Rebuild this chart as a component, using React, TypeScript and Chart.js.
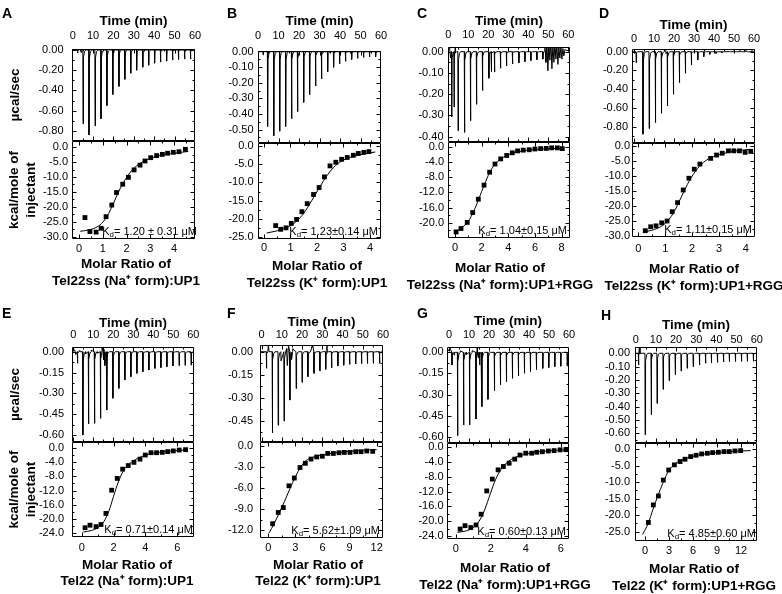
import React, { useEffect, useRef } from 'react';
import { Chart, registerables } from 'chart.js';

Chart.register(...registerables);

const FONT = '"Liberation Sans", Arial, Helvetica, sans-serif';
Chart.defaults.font.family = FONT;
Chart.defaults.font.size = 11;
Chart.defaults.color = '#000';

const TITLE_SIZE = 13.5;
const TITLE_LH = TITLE_SIZE * 1.25;
const TICK_LH = 11 * 1.2;

// ---------------- shared ticks ----------------
const TIME_TICKS = [0, 10, 20, 30, 40, 50, 60];

// ---------------- Panel A ----------------
const A_INJ_T = [2.3, 5.0, 7.9, 10.9, 13.8, 16.7, 19.6, 22.6, 25.5, 28.4, 31.3, 34.3, 37.2, 40.1, 43.0, 46.0, 48.9, 51.8, 54.8, 57.7];
const A_INJ_Q = [-0.03, -0.73, -0.84, -0.75, -0.68, -0.55, -0.44, -0.36, -0.29, -0.23, -0.2, -0.17, -0.15, -0.13, -0.12, -0.11, -0.1, -0.095, -0.09, -0.09];
const A_NOISE = [[3.6, 0.008], [4.2, -0.025], [4.6, 0.009], [29.9, 0.007]];
const A_RATIO = [0.25, 0.46, 0.72, 0.93, 1.14, 1.38, 1.58, 1.84, 2.08, 2.32, 2.57, 2.78, 3.02, 3.27, 3.51, 3.73, 3.97, 4.21, 4.48];
const A_HEAT = [-23.6, -28.3, -28.5, -27.2, -23.3, -19.4, -15.2, -12.4, -10.1, -7.6, -6.0, -4.6, -3.5, -2.8, -2.4, -2.0, -1.7, -1.5, -0.7];
const A_FIT_X = [0.05, 0.4, 0.7, 0.95, 1.15, 1.35, 1.55, 1.75, 1.95, 2.2, 2.5, 2.8, 3.2, 3.6, 4.0, 4.6];
const A_FIT_Y = [-28.2, -27.8, -27.0, -25.6, -23.6, -20.6, -17.0, -13.6, -10.8, -8.0, -5.8, -4.4, -3.2, -2.5, -2.0, -1.4];
const A_RAW_TICKS = [0, -0.2, -0.4, -0.6, -0.8];
const A_HEAT_TICKS = [0, -5, -10, -15, -20, -25, -30];
const A_RATIO_TICKS = [0, 1, 2, 3, 4];

// ---------------- Panel B ----------------
const B_INJ_T = [2.4, 4.6, 7.6, 10.5, 13.4, 16.3, 19.2, 22.2, 25.1, 28.0, 30.9, 33.9, 36.8, 39.7, 42.6, 45.6, 48.5, 51.4, 54.3, 57.3];
const B_INJ_Q = [-0.02, -0.48, -0.54, -0.51, -0.48, -0.43, -0.385, -0.325, -0.275, -0.22, -0.175, -0.13, -0.1, -0.078, -0.062, -0.05, -0.043, -0.037, -0.033, -0.032];
const B_NOISE: number[][] = [];
const B_RATIO = [0.44, 0.63, 0.83, 1.03, 1.23, 1.43, 1.63, 1.87, 2.08, 2.28, 2.49, 2.71, 2.93, 3.14, 3.37, 3.56, 3.77, 3.96];
const B_HEAT = [-21.8, -22.8, -22.4, -21.2, -20.1, -18.0, -15.8, -13.3, -11.4, -8.5, -5.5, -4.5, -3.7, -3.2, -2.6, -2.1, -1.8, -1.6];
const B_FIT_X = [0.1, 0.5, 0.9, 1.2, 1.5, 1.8, 2.1, 2.4, 2.7, 3.0, 3.4, 3.8, 4.2];
const B_FIT_Y = [-23.8, -23.2, -22.2, -20.8, -18.4, -15.0, -11.3, -7.9, -5.4, -3.9, -2.9, -2.2, -1.7];
const B_RAW_TICKS = [0, -0.1, -0.2, -0.3, -0.4, -0.5];
const B_HEAT_TICKS = [0, -5, -10, -15, -20, -25];
const B_RATIO_TICKS = [0, 1, 2, 3, 4];

// ---------------- Panel C ----------------
const C_INJ_T = [1.6, 2.8, 4.8, 8.0, 11.0, 14.0, 17.0, 20.2, 21.4, 23.0, 26.0, 29.0, 32.0, 35.2, 38.2, 41.2, 44.2, 47.2];
const C_INJ_Q = [-0.306, -0.26, -0.372, -0.38, -0.325, -0.248, -0.183, -0.125, -0.094, -0.096, -0.078, -0.067, -0.058, -0.052, -0.047, -0.042, -0.038, -0.035];
const C_NOISE = [[0.6, 0.025], [1.1, -0.03], [3.5, 0.02], [48.3, 0.02], [48.8, -0.05], [49.3, 0.05], [49.8, -0.09], [50.3, 0.04], [50.8, -0.04], [51.3, 0.06], [51.8, -0.08], [52.3, 0.035], [52.8, -0.05], [53.3, 0.04], [53.8, -0.035], [54.3, 0.03], [54.8, -0.06], [55.3, 0.02], [55.8, -0.03], [56.3, 0.025], [56.8, -0.035], [57.3, 0.015], [57.8, -0.02], [58.3, 0.01]];
const C_RATIO = [0.08, 0.45, 0.92, 1.33, 1.75, 2.18, 2.6, 3.0, 3.43, 3.88, 4.3, 4.7, 5.12, 5.57, 6.0, 6.43, 6.85, 7.25, 7.68, 8.05];
const C_HEAT = [-22.4, -21.5, -19.9, -17.3, -13.8, -10.1, -6.7, -4.55, -3.2, -2.3, -1.6, -1.1, -0.9, -0.8, -0.6, -0.5, -0.45, -0.3, -0.3, -0.5];
const C_FIT_X = [0.1, 0.5, 1.0, 1.4, 1.8, 2.2, 2.6, 3.0, 3.4, 3.9, 4.5, 5.5, 6.5, 8.0];
const C_FIT_Y = [-22.2, -21.3, -19.6, -17.0, -13.6, -10.0, -6.8, -4.6, -3.3, -2.3, -1.5, -0.9, -0.6, -0.4];
const C_RAW_TICKS = [0, -0.1, -0.2, -0.3, -0.4];
const C_HEAT_TICKS = [0, -4, -8, -12, -16, -20];
const C_RATIO_TICKS = [0, 2, 4, 6, 8];

// ---------------- Panel D ----------------
const D_INJ_T = [1.0, 4.4, 7.5, 10.6, 13.6, 16.6, 19.6, 22.6, 25.6, 28.6, 31.8, 34.8, 37.8, 40.9, 43.9, 46.9, 49.9, 52.9, 55.9, 58.9];
const D_INJ_Q = [-0.117, -0.88, -0.82, -0.757, -0.657, -0.579, -0.454, -0.33, -0.23, -0.142, -0.089, -0.053, -0.028, -0.018, -0.011, 0.008, 0.012, 0.014, 0.014, 0.014];
const D_NOISE = [[15.8, 0.035], [16.0, -0.02]];
const D_RATIO = [0.26, 0.46, 0.66, 0.87, 1.07, 1.26, 1.46, 1.67, 1.88, 2.08, 2.29, 2.69, 2.91, 3.12, 3.35, 3.55, 3.76, 3.97, 4.18];
const D_HEAT = [-28.2, -26.9, -26.6, -25.6, -25.0, -21.9, -18.9, -14.7, -10.8, -7.8, -6.1, -4.2, -3.1, -2.5, -1.7, -1.7, -1.7, -2.2, -1.9];
const D_FIT_X = [0.2, 0.6, 1.0, 1.3, 1.6, 1.9, 2.2, 2.5, 2.9, 3.3, 3.7, 4.2];
const D_FIT_Y = [-28.6, -27.8, -25.8, -22.4, -17.0, -11.6, -7.6, -5.0, -3.3, -2.3, -1.6, -1.2];
const D_RAW_TICKS = [0, -0.2, -0.4, -0.6, -0.8];
const D_HEAT_TICKS = [0, -5, -10, -15, -20, -25, -30];
const D_RATIO_TICKS = [0, 1, 2, 3, 4];

// ---------------- Panel E ----------------
const E_INJ_T = [2.0, 4.7, 7.5, 10.5, 13.5, 15.7, 16.7, 19.7, 22.7, 25.7, 28.7, 31.7, 34.7, 37.7, 40.7, 43.7, 46.7, 49.7, 52.8, 55.8, 58.8];
const E_INJ_Q = [-0.084, -0.6, -0.52, -0.516, -0.48, -0.1, -0.42, -0.335, -0.264, -0.204, -0.18, -0.156, -0.144, -0.132, -0.12, -0.115, -0.108, -0.103, -0.1, -0.098, -0.096];
const E_NOISE = [[0.6, 0.015], [1.2, -0.02], [3.2, 0.01], [6.2, -0.015], [9.0, 0.012], [12.0, -0.01], [14.4, 0.03], [14.9, -0.06], [15.3, 0.025]];
const E_RATIO = [0.21, 0.52, 0.9, 1.21, 1.52, 1.88, 2.23, 2.57, 2.92, 3.28, 3.66, 3.99, 4.35, 4.7, 5.06, 5.4, 5.75, 6.12, 6.52];
const E_HEAT = [-22.4, -21.7, -22.1, -21.5, -18.4, -11.9, -8.6, -6.0, -5.0, -4.1, -3.2, -2.05, -1.4, -1.4, -1.3, -1.1, -0.9, -0.65, -0.55];
const E_FIT_X = [0.1, 0.6, 1.0, 1.4, 1.7, 2.0, 2.3, 2.6, 3.0, 3.5, 4.0, 5.0, 6.0, 6.6];
const E_FIT_Y = [-23.6, -23.2, -22.4, -20.6, -17.8, -13.6, -9.6, -6.6, -4.5, -3.0, -2.1, -1.2, -0.8, -0.6];
const E_RAW_TICKS = [0, -0.15, -0.3, -0.45, -0.6];
const E_HEAT_TICKS = [0, -4, -8, -12, -16, -20, -24];
const E_RATIO_TICKS = [0, 2, 4, 6];

// ---------------- Panel F ----------------
const F_INJ_T = [2.3, 5.2, 8.1, 11.0, 13.9, 17.0, 19.9, 22.8, 25.8, 28.7, 31.6, 34.5, 37.6, 40.5, 43.4, 46.4, 49.3, 52.2, 55.1, 58.2];
const F_INJ_Q = [-0.108, -0.53, -0.48, -0.453, -0.316, -0.24, -0.2, -0.163, -0.141, -0.126, -0.115, -0.105, -0.093, -0.088, -0.083, -0.08, -0.078, -0.077, -0.076, -0.076];
const F_NOISE = [[3.3, 0.05], [9.6, -0.06], [12.3, 0.02], [12.7, -0.09], [13.3, 0.04], [14.8, -0.05], [15.4, 0.02], [25.2, 0.05], [32.3, 0.05]];
const F_RATIO = [0.48, 1.1, 1.66, 2.29, 2.88, 3.51, 4.1, 4.73, 5.36, 5.98, 6.58, 7.2, 7.83, 8.42, 9.05, 9.68, 10.27, 10.9, 11.56];
const F_HEAT = [-11.1, -9.5, -8.8, -5.7, -4.6, -3.1, -2.5, -1.9, -1.6, -1.5, -1.1, -1.1, -1.0, -0.95, -0.95, -0.85, -0.85, -0.75, -0.8];
const F_FIT_X = [0.1, 0.6, 1.2, 1.8, 2.4, 3.0, 3.6, 4.2, 4.8, 6.0, 7.5, 9.0, 10.5, 12.0];
const F_FIT_Y = [-12.4, -11.2, -9.6, -7.9, -6.1, -4.4, -3.0, -2.1, -1.7, -1.3, -1.0, -0.8, -0.65, -0.55];
const F_RAW_TICKS = [0, -0.15, -0.3, -0.45];
const F_HEAT_TICKS = [0, -3, -6, -9, -12];
const F_RATIO_TICKS = [0, 3, 6, 9, 12];

// ---------------- Panel G ----------------
const G_INJ_T = [1.4, 4.2, 7.2, 10.2, 13.4, 15.2, 16.4, 19.4, 22.6, 25.6, 28.6, 31.6, 34.6, 37.6, 40.6, 43.6, 46.8, 49.8, 52.8, 55.8, 59.0];
const G_INJ_Q = [-0.09, -0.593, -0.517, -0.517, -0.474, -0.09, -0.386, -0.334, -0.273, -0.232, -0.209, -0.185, -0.168, -0.149, -0.137, -0.125, -0.114, -0.108, -0.102, -0.099, -0.097];
const G_NOISE = [[0.5, 0.03], [2.6, -0.02], [5.6, 0.01], [8.6, -0.015], [11.6, 0.012], [14.2, 0.035], [14.7, -0.04]];
const G_RATIO = [0.25, 0.53, 0.86, 1.16, 1.45, 1.77, 2.09, 2.42, 2.72, 3.05, 3.37, 3.67, 4.0, 4.34, 4.63, 4.95, 5.29, 5.62, 5.96, 6.29];
const G_HEAT = [-22.1, -21.2, -21.7, -21.0, -18.1, -11.8, -8.6, -6.1, -5.2, -4.3, -3.2, -2.1, -1.6, -1.6, -1.35, -1.2, -1.0, -0.9, -0.7, -0.65];
const G_FIT_X = [0.1, 0.6, 1.0, 1.3, 1.6, 1.9, 2.2, 2.5, 2.8, 3.2, 3.7, 4.3, 5.2, 6.3];
const G_FIT_Y = [-23.0, -22.6, -21.7, -20.2, -17.5, -13.6, -9.6, -6.6, -4.7, -3.2, -2.2, -1.5, -1.0, -0.7];
const G_RAW_TICKS = [0, -0.15, -0.3, -0.45, -0.6];
const G_HEAT_TICKS = [0, -4, -8, -12, -16, -20, -24];
const G_RATIO_TICKS = [0, 2, 4, 6];

// ---------------- Panel H ----------------
const H_INJ_T = [1.3, 4.6, 7.6, 10.5, 13.5, 16.5, 19.5, 22.4, 25.4, 28.4, 31.5, 34.5, 37.4, 40.4, 43.4, 46.3, 49.3, 52.3, 55.2, 58.2];
const H_INJ_Q = [-0.088, -0.61, -0.462, -0.375, -0.27, -0.205, -0.163, -0.133, -0.112, -0.1, -0.088, -0.075, -0.072, -0.068, -0.065, -0.063, -0.062, -0.061, -0.06, -0.06];
const H_NOISE = [[1.9, 0.06]];
const H_RATIO = [0.42, 1.04, 1.67, 2.29, 2.96, 3.67, 4.38, 5.0, 5.71, 6.38, 7.08, 7.79, 8.46, 9.17, 9.88, 10.54, 11.25, 11.96];
const H_HEAT = [-22.2, -16.9, -14.2, -9.4, -6.35, -4.8, -3.8, -3.1, -2.3, -1.9, -1.5, -1.3, -1.1, -1.0, -0.8, -0.8, -0.6, -0.5];
const H_FIT_X = [-0.3, 0.4, 1.0, 1.6, 2.2, 2.8, 3.4, 4.0, 5.0, 6.0, 7.5, 9.0, 10.5, 12.0, 13.2];
const H_FIT_Y = [-25.8, -22.5, -18.2, -14.2, -10.5, -7.3, -5.3, -4.1, -3.0, -2.2, -1.5, -1.1, -0.8, -0.6, -0.5];
const H_RAW_TICKS = [0, -0.1, -0.2, -0.3, -0.4, -0.5, -0.6];
const H_HEAT_TICKS = [0, -5, -10, -15, -20, -25];
const H_RATIO_TICKS = [0, 3, 6, 9, 12];

// ---------------- labels ----------------
const X_LABEL_1 = 'Molar Ratio of';
const X_LABELS_2 = [
  'Tel22ss (Na⁺ form):UP1', 'Tel22ss (K⁺ form):UP1', 'Tel22ss (Na⁺ form):UP1+RGG', 'Tel22ss (K⁺ form):UP1+RGG',
  'Tel22 (Na⁺ form):UP1', 'Tel22 (K⁺ form):UP1', 'Tel22 (Na⁺ form):UP1+RGG', 'Tel22 (K⁺ form):UP1+RGG',
];
const KD_TEXT = [
  '= 1.20 ± 0.31 μM', '= 1.23±0.14 μM', '= 1.04±0.15 μM', '= 1.11±0.15 μM',
  '= 0.71±0.14 μM', '= 5.62±1.09 μM', '= 0.60±0.13 μM', '= 4.85±0.60 μM',
];
const LETTERS = ['A', 'B', 'C', 'D', 'E', 'F', 'G', 'H'];

// ---------------- layout (positions only) ----------------
const LAYOUT = [
  { col: 0, L: 72, R: 195, T: 49, D: 141, B: 239, tY: 35.7, ttY: 21.7, xY: 249, t2Y: 281, cx: 126, yPad: 8.5, yPadB: 4, kdDx: 2, lx: 2, ly: 6 },
  { col: 1, L: 258, R: 381, T: 51, D: 143, B: 239, tY: 35.7, ttY: 21.7, xY: 248.3, t2Y: 283, cx: 317, yPad: 4.5, yPadB: 4.5, kdDx: -3, lx: 227, ly: 6 },
  { col: 2, L: 448, R: 570, T: 47, D: 142, B: 238, tY: 35, ttY: 21.7, xY: 248.3, t2Y: 285, cx: 500, yPad: 4.5, yPadB: 4, kdDx: -3, lx: 417, ly: 6 },
  { col: 3, L: 632, R: 755, T: 49, D: 143, B: 237, tY: 39, ttY: 25, xY: 249.3, t2Y: 286, cx: 694, yPad: 4, yPadB: 2, kdDx: -3, lx: 599, ly: 6 },
  { col: 0, L: 72, R: 194, T: 347, D: 442, B: 537, tY: 335, ttY: 323, xY: 548.3, t2Y: 581.7, cx: 127, yPad: 8, yPadB: 8, kdDx: -1, lx: 2, ly: 306 },
  { col: 1, L: 260, R: 383, T: 345, D: 442, B: 538, tY: 335, ttY: 322.7, xY: 548.3, t2Y: 581.7, cx: 318, yPad: 7, yPadB: 7, kdDx: -3, lx: 227, ly: 306 },
  { col: 2, L: 447, R: 569, T: 347, D: 443, B: 539, tY: 335, ttY: 321.7, xY: 549.3, t2Y: 585, cx: 505, yPad: 3.5, yPadB: 3.5, kdDx: -3, lx: 417, ly: 306 },
  { col: 3, L: 635, R: 757, T: 347, D: 443, B: 541, tY: 340, ttY: 325, xY: 550.7, t2Y: 586, cx: 694, yPad: 5, yPadB: 5, kdDx: -1, lx: 601, ly: 308 },
];

const RANGES = [
  { time: [-0.34, 60], raw: [-0.9, 0.01], heat: [-30.8, 2.1], ratio: [-0.295, 4.884] },
  { time: [0, 60], raw: [-0.586, 0.0045], heat: [-25.45, 0.75], ratio: [-0.226, 4.415] },
  { time: [-0.15, 60.85], raw: [-0.425, 0.022], heat: [-24.0, 1.24], ratio: [-0.525, 8.63] },
  { time: [-1.0, 60.5], raw: [-0.974, 0.029], heat: [-30.3, 0.9], ratio: [-0.234, 4.338] },
  { time: [-0.65, 60.35], raw: [-0.65, 0.034], heat: [-25.0, 1.6], ratio: [-0.61, 7.05] },
  { time: [-0.8, 60], raw: [-0.59, 0.044], heat: [-13.13, 0.53], ratio: [-0.92, 12.7] },
  { time: [-1, 60], raw: [-0.645, 0.038], heat: [-24.8, 1.16], ratio: [-0.5, 6.47] },
  { time: [-0.35, 60.1], raw: [-0.672, 0.047], heat: [-27.8, 1.8], ratio: [-1.25, 14.0] },
];

const DATA = [
  { injT: A_INJ_T, injQ: A_INJ_Q, noise: A_NOISE, ratio: A_RATIO, heat: A_HEAT, fitX: A_FIT_X, fitY: A_FIT_Y, rawTicks: A_RAW_TICKS, heatTicks: A_HEAT_TICKS, ratioTicks: A_RATIO_TICKS },
  { injT: B_INJ_T, injQ: B_INJ_Q, noise: B_NOISE, ratio: B_RATIO, heat: B_HEAT, fitX: B_FIT_X, fitY: B_FIT_Y, rawTicks: B_RAW_TICKS, heatTicks: B_HEAT_TICKS, ratioTicks: B_RATIO_TICKS },
  { injT: C_INJ_T, injQ: C_INJ_Q, noise: C_NOISE, ratio: C_RATIO, heat: C_HEAT, fitX: C_FIT_X, fitY: C_FIT_Y, rawTicks: C_RAW_TICKS, heatTicks: C_HEAT_TICKS, ratioTicks: C_RATIO_TICKS },
  { injT: D_INJ_T, injQ: D_INJ_Q, noise: D_NOISE, ratio: D_RATIO, heat: D_HEAT, fitX: D_FIT_X, fitY: D_FIT_Y, rawTicks: D_RAW_TICKS, heatTicks: D_HEAT_TICKS, ratioTicks: D_RATIO_TICKS },
  { injT: E_INJ_T, injQ: E_INJ_Q, noise: E_NOISE, ratio: E_RATIO, heat: E_HEAT, fitX: E_FIT_X, fitY: E_FIT_Y, rawTicks: E_RAW_TICKS, heatTicks: E_HEAT_TICKS, ratioTicks: E_RATIO_TICKS },
  { injT: F_INJ_T, injQ: F_INJ_Q, noise: F_NOISE, ratio: F_RATIO, heat: F_HEAT, fitX: F_FIT_X, fitY: F_FIT_Y, rawTicks: F_RAW_TICKS, heatTicks: F_HEAT_TICKS, ratioTicks: F_RATIO_TICKS },
  { injT: G_INJ_T, injQ: G_INJ_Q, noise: G_NOISE, ratio: G_RATIO, heat: G_HEAT, fitX: G_FIT_X, fitY: G_FIT_Y, rawTicks: G_RAW_TICKS, heatTicks: G_HEAT_TICKS, ratioTicks: G_RATIO_TICKS },
  { injT: H_INJ_T, injQ: H_INJ_Q, noise: H_NOISE, ratio: H_RATIO, heat: H_HEAT, fitX: H_FIT_X, fitY: H_FIT_Y, rawTicks: H_RAW_TICKS, heatTicks: H_HEAT_TICKS, ratioTicks: H_RATIO_TICKS },
];

// ---------------- plugins ----------------
function minorsOf(arr: number[]) {
  const m: number[] = [];
  for (let i = 0; i < arr.length - 1; i++) m.push((arr[i] + arr[i + 1]) / 2);
  if (arr.length > 1) {
    const st = arr[1] - arr[0];
    m.push(arr[0] - st / 2, arr[arr.length - 1] + st / 2);
  }
  return m;
}

const frameTicks = {
  id: 'frameTicks',
  afterDatasetsDraw(chart: any, _a: any, opts: any) {
    const { ctx, chartArea } = chart;
    const { left, right, top, bottom } = chartArea;
    const xs = chart.scales.x;
    const ys = chart.scales.y;
    const l = Math.round(left) + 0.5;
    const r = Math.round(right) - 0.5;
    const t = Math.round(top) + 0.5;
    const b = Math.round(bottom) - 0.5;
    ctx.save();
    ctx.strokeStyle = '#000';
    ctx.lineWidth = 1;
    ctx.beginPath();
    ctx.rect(l, t, r - l, b - t);
    const dx = (vals: number[], len: number) => {
      for (const v of vals) {
        const px = xs.getPixelForValue(v);
        if (px < left + 1 || px > right - 1) continue;
        const p = Math.round(px) + 0.5;
        ctx.moveTo(p, t); ctx.lineTo(p, t + len);
        ctx.moveTo(p, b); ctx.lineTo(p, b - len);
      }
    };
    const dy = (vals: number[], len: number) => {
      for (const v of vals) {
        const py = ys.getPixelForValue(v);
        if (py < top + 1 || py > bottom - 1) continue;
        const p = Math.round(py) + 0.5;
        ctx.moveTo(l, p); ctx.lineTo(l + len, p);
        ctx.moveTo(r, p); ctx.lineTo(r - len, p);
      }
    };
    dx(opts.x, 4); dx(minorsOf(opts.x), 2);
    dy(opts.y, 4); dy(minorsOf(opts.y), 2);
    ctx.stroke();
    ctx.restore();
  },
};

const kdPlugin = {
  id: 'kd',
  afterDatasetsDraw(chart: any, _a: any, opts: any) {
    if (!opts || !opts.text) return;
    const { ctx, chartArea } = chart;
    const size = 11;
    ctx.save();
    ctx.fillStyle = '#000';
    ctx.textBaseline = 'middle';
    ctx.textAlign = 'left';
    ctx.font = `${size}px ${FONT}`;
    const wMain = ctx.measureText(opts.text).width;
    const wK = ctx.measureText('K').width;
    ctx.font = `${size * 0.72}px ${FONT}`;
    const wd = ctx.measureText('d').width;
    const xr = chartArea.right + opts.dx;
    const yc = chartArea.bottom + opts.dy;
    let x = xr - wMain - wd - wK;
    ctx.font = `${size}px ${FONT}`;
    ctx.fillText('K', x, yc);
    x += wK;
    ctx.font = `${size * 0.72}px ${FONT}`;
    ctx.fillText('d', x, yc + 3);
    x += wd;
    ctx.font = `${size}px ${FONT}`;
    ctx.fillText(opts.text, x, yc);
    ctx.restore();
  },
};

// ---------------- builders ----------------
// Each injection is drawn as a sharp dip to its read peak value with a short return tail.
function buildTrace(times: number[], peaks: number[], noise: number[][], range: number[]) {
  const pts: { x: number; y: number }[] = [{ x: range[0], y: 0 }];
  times.forEach((t, i) => {
    const a = peaks[i];
    pts.push({ x: t - 0.02, y: 0 }, { x: t + 0.08, y: a }, { x: t + 0.28, y: a * 0.1 }, { x: t + 0.8, y: a * 0.02 }, { x: t + 1.4, y: 0 });
  });
  noise.forEach(([t, v]) => pts.push({ x: t, y: v }));
  pts.push({ x: range[1], y: 0 });
  pts.sort((p, q) => p.x - q.x);
  return pts;
}

const titleFont = { size: TITLE_SIZE, weight: 'bold' as const, family: FONT, lineHeight: 1.25 };
const tickFont = { size: 11, family: FONT, lineHeight: 1.2 };

function topChart(i: number) {
  const p = LAYOUT[i], rg = RANGES[i], d = DATA[i];
  const x0 = p.col === 0 ? 0 : p.L - 52;
  const yW = p.L - x0;
  const y0 = Math.floor(p.ttY - TITLE_LH / 2 - 2);
  const titlePadTop = p.ttY - TITLE_LH / 2 - y0;
  const xH = p.T - y0;
  const padR = 14, padB = 8;
  const w = p.R - x0 + padR;
  const h = p.D - y0 + padB;
  const config: any = {
    type: 'scatter',
    data: {
      datasets: [{
        data: buildTrace(d.injT, d.injQ, d.noise, rg.time),
        showLine: true, borderColor: '#000', borderWidth: 1, pointRadius: 0, tension: 0, fill: false,
      }],
    },
    options: {
      responsive: false, animation: false, events: [],
      layout: { padding: { left: 0, top: 0, right: padR, bottom: padB }, autoPadding: false },
      plugins: {
        legend: { display: false }, tooltip: { enabled: false }, title: { display: false },
        frameTicks: { x: TIME_TICKS, y: d.rawTicks },
        kd: { text: '' },
      },
      scales: {
        x: {
          type: 'linear', position: 'top', min: rg.time[0], max: rg.time[1],
          grid: { display: false, drawTicks: false }, border: { display: false },
          ticks: { padding: p.T - p.tY - TICK_LH / 2, font: tickFont, color: '#000', maxRotation: 0, autoSkip: false, callback: (v: any) => String(v) },
          afterBuildTicks: (s: any) => { s.ticks = TIME_TICKS.map((v) => ({ value: v })); },
          afterFit: (s: any) => { s.height = xH; s.paddingLeft = 0; s.paddingRight = 0; },
          title: { display: true, text: 'Time (min)', font: titleFont, color: '#000', padding: { top: titlePadTop, bottom: 0 } },
        },
        y: {
          type: 'linear', position: 'left', min: rg.raw[0], max: rg.raw[1],
          grid: { display: false, drawTicks: false }, border: { display: false },
          ticks: { padding: p.yPad, font: tickFont, color: '#000', autoSkip: false, callback: (v: any) => Number(v).toFixed(2) },
          afterBuildTicks: (s: any) => { s.ticks = d.rawTicks.map((v) => ({ value: v })); },
          afterFit: (s: any) => { s.width = yW; s.paddingTop = 0; s.paddingBottom = 0; },
          title: p.col === 0
            ? { display: true, text: 'µcal/sec', font: titleFont, color: '#000', padding: { top: 15 - TITLE_LH / 2, bottom: 0 } }
            : { display: false },
        },
      },
    },
    plugins: [frameTicks, kdPlugin],
  };
  return { rect: { x: x0, y: y0, w, h }, config };
}

function bottomChart(i: number) {
  const p = LAYOUT[i], rg = RANGES[i], d = DATA[i];
  const x0 = p.col === 0 ? 0 : p.L - 52;
  const yW = p.L - x0;
  const W = Math.round(2 * (p.cx - x0));
  const rw = W - (p.R - x0);
  const padT = 8;
  const y0 = p.D - padT;
  const titleBoxH = 2 * TITLE_LH;
  const totalH = p.t2Y + TITLE_LH / 2 - y0;
  const H = Math.ceil(totalH);
  const padB = H - totalH;
  const xH = totalH - titleBoxH - (p.B - y0);
  const scatter = d.ratio.map((x, k) => ({ x, y: d.heat[k] }));
  const fit = d.fitX.map((x, k) => ({ x, y: d.fitY[k] }));
  const config: any = {
    type: 'scatter',
    data: {
      datasets: [
        { data: fit, showLine: true, borderColor: '#000', borderWidth: 1, pointRadius: 0, cubicInterpolationMode: 'monotone', fill: false },
        { data: scatter, pointStyle: 'rect', pointRadius: 3.4, backgroundColor: '#000', borderWidth: 0 },
      ],
    },
    options: {
      responsive: false, animation: false, events: [],
      layout: { padding: { left: 0, top: padT, right: 0, bottom: padB }, autoPadding: false },
      plugins: {
        legend: { display: false }, tooltip: { enabled: false },
        title: { display: true, position: 'bottom', text: [X_LABEL_1, X_LABELS_2[i]], font: titleFont, color: '#000', padding: { top: 0, bottom: 0 }, align: 'center' },
        frameTicks: { x: d.ratioTicks, y: d.heatTicks },
        kd: { text: KD_TEXT[i], dx: p.kdDx, dy: -7.5 },
      },
      scales: {
        x: {
          type: 'linear', position: 'bottom', min: rg.ratio[0], max: rg.ratio[1],
          grid: { display: false, drawTicks: false }, border: { display: false },
          ticks: { padding: p.xY - p.B - TICK_LH / 2, font: tickFont, color: '#000', maxRotation: 0, autoSkip: false, callback: (v: any) => String(v) },
          afterBuildTicks: (s: any) => { s.ticks = d.ratioTicks.map((v) => ({ value: v })); },
          afterFit: (s: any) => { s.height = xH; s.paddingLeft = 0; s.paddingRight = 0; },
        },
        y: {
          type: 'linear', position: 'left', min: rg.heat[0], max: rg.heat[1],
          grid: { display: false, drawTicks: false }, border: { display: false },
          ticks: { padding: p.yPadB, font: tickFont, color: '#000', autoSkip: false, callback: (v: any) => Number(v).toFixed(1) },
          afterBuildTicks: (s: any) => { s.ticks = d.heatTicks.map((v) => ({ value: v })); },
          afterFit: (s: any) => { s.width = yW; s.paddingTop = 0; s.paddingBottom = 0; },
          title: p.col === 0
            ? { display: true, text: ['kcal/mole of', 'injectant'], font: titleFont, color: '#000', padding: { top: 14 - TITLE_LH / 2, bottom: 0 } }
            : { display: false },
        },
        y2: {
          type: 'linear', position: 'right', display: true,
          grid: { display: false, drawTicks: false }, border: { display: false },
          ticks: { display: false },
          afterFit: (s: any) => { s.width = rw; s.paddingTop = 0; s.paddingBottom = 0; },
        },
      },
    },
    plugins: [frameTicks, kdPlugin],
  };
  return { rect: { x: x0, y: y0, w: W, h: H }, config };
}

// ---------------- components ----------------
function ChartCanvas({ build }: { build: () => { rect: any; config: any } }) {
  const ref = useRef<HTMLCanvasElement | null>(null);
  const { rect } = build();
  useEffect(() => {
    const { config } = build();
    const chart = new Chart(ref.current as HTMLCanvasElement, config);
    return () => chart.destroy();
  }, []);
  return (
    <canvas
      ref={ref}
      width={rect.w}
      height={rect.h}
      style={{ position: 'absolute', left: rect.x, top: rect.y, width: rect.w, height: rect.h }}
    />
  );
}

function Panel({ i }: { i: number }) {
  const p = LAYOUT[i];
  return (
    <>
      <ChartCanvas build={() => topChart(i)} />
      <ChartCanvas build={() => bottomChart(i)} />
      <div
        style={{
          position: 'absolute', left: p.lx, top: p.ly, fontFamily: FONT, fontWeight: 'bold',
          fontSize: 14, lineHeight: '14px', color: '#000',
        }}
      >
        {LETTERS[i]}
      </div>
    </>
  );
}

export default function App() {
  return (
    <div
      style={{
        position: 'fixed', left: 0, top: 0, width: 782, height: 594, overflow: 'hidden',
        background: '#fff', fontFamily: FONT,
      }}
    >
      {LETTERS.map((_, i) => (
        <Panel key={i} i={i} />
      ))}
    </div>
  );
}
